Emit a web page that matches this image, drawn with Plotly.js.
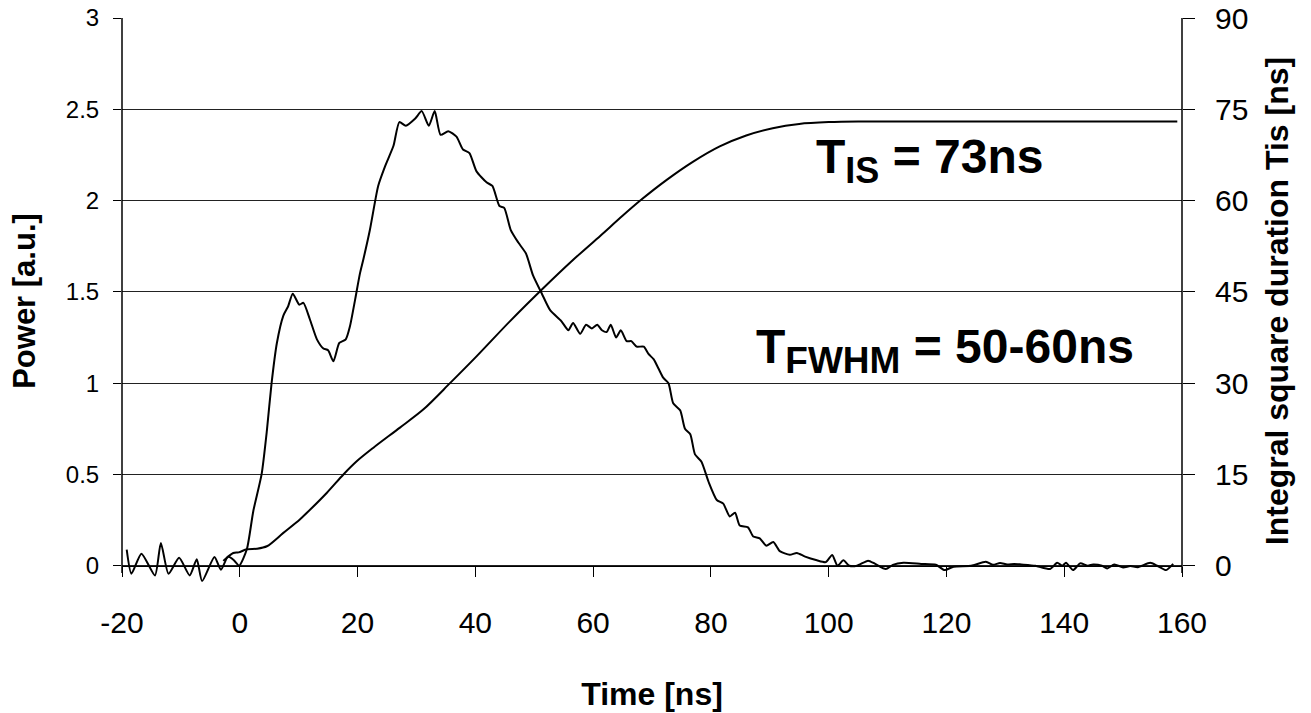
<!DOCTYPE html>
<html>
<head>
<meta charset="utf-8">
<script src="https://cdn.plot.ly/plotly-3.0.1.min.js"></script>
<style>html,body{margin:0;padding:0;background:#fff;}#chart{width:1311px;height:713px;}</style>
</head>
<body>
<div id="chart"></div>
<script>
// Power [a.u.] vs time [ns]
const powerTime = [-19.2,-18.4,-16.7,-14.4,-13.4,-12.1,-10.3,-8.5,-7.3,-6.4,-4.3,-3.2,-2.0,-1.0,-0.1,1.2,2.3,3.7,4.6,5.4,6.3,7.4,8.2,9.0,10.1,10.8,11.9,13.1,14.2,15.0,15.9,16.9,18.0,18.7,19.6,20.4,21.0,22.1,23.0,23.5,24.7,26.1,27.1,28.2,29.8,30.9,32.1,33.1,34.1,35.4,36.8,37.9,39.0,40.2,41.9,42.9,44.1,44.9,46.0,47.3,48.6,49.8,51.3,52.7,54.6,55.8,56.6,57.8,58.8,59.8,60.7,61.5,62.3,63.0,63.9,64.7,65.7,66.5,67.4,68.6,69.4,70.3,71.1,71.9,72.8,73.6,74.8,75.6,76.5,77.3,78.4,79.6,81.0,82.1,83.2,84.1,84.9,86.3,87.2,88.3,89.4,90.6,91.7,93.4,94.6,96.0,98.0,99.5,100.6,101.5,102.5,103.5,104.8,106.7,107.9,109.7,110.9,112.7,115.7,118.2,119.7,121.2,124.2,126.7,127.9,129.1,130.3,131.5,132.7,135.1,137.6,138.8,139.7,140.3,141.5,142.7,144.0,144.9,146.4,147.3,148.5,150.0,151.2,152.5,154.6,155.8,157.3,158.5];
const powerValue = [0.088,-0.044,0.066,-0.053,0.125,-0.044,0.044,-0.053,0.035,-0.084,0.048,-0.022,0.05,0.03,0.0,0.09,0.30,0.50,0.74,1.00,1.22,1.37,1.42,1.49,1.43,1.44,1.35,1.24,1.19,1.18,1.12,1.22,1.24,1.31,1.46,1.60,1.68,1.84,2.00,2.08,2.19,2.30,2.43,2.41,2.45,2.49,2.41,2.49,2.36,2.38,2.35,2.28,2.26,2.16,2.10,2.08,1.97,1.96,1.84,1.77,1.71,1.59,1.49,1.40,1.34,1.29,1.33,1.27,1.32,1.30,1.32,1.29,1.28,1.32,1.25,1.29,1.23,1.23,1.20,1.20,1.16,1.13,1.08,1.03,1.00,0.89,0.85,0.75,0.72,0.61,0.57,0.46,0.36,0.34,0.27,0.29,0.22,0.21,0.16,0.15,0.11,0.13,0.08,0.06,0.07,0.05,0.03,0.02,0.059,0.0,0.03,0.0,0.0,0.028,0.01,-0.018,0.005,0.016,0.01,0.005,-0.024,-0.005,0.0,0.022,0.005,0.015,0.007,0.01,0.007,0.0,-0.018,0.016,0.0,0.016,-0.024,0.013,0.0,0.007,0.0,-0.015,0.007,-0.009,-0.002,-0.008,0.016,0.0,-0.024,0.01];

// Integral square duration Tis [ns] vs time [ns]
const tisTime = [-2.8,-1.1,-0.2,1.2,2.9,4.6,7.4,10.2,11.4,14.8,17.6,19.9,22.7,27.2,31.2,35.7,40.2,45.9,51.3,56.3,61.2,65.0,68.0,72.5,77.0,81.5,86.0,90.5,95.0,100.0,105.0,120.0,140.0,159.2];
const tisValue = [0.8,2.1,2.2,2.7,2.8,3.2,5.4,7.6,8.7,12.0,15.0,17.2,19.4,22.7,25.7,30.0,34.4,40.2,45.4,50.0,54.2,57.5,60.0,63.4,66.4,68.9,70.7,71.9,72.6,72.9,73.0,73.0,73.0,73.0];

// Axis ticks
const xTicks = [-20,0,20,40,60,80,100,120,140,160];
const yLeftTicks = [0,0.5,1,1.5,2,2.5,3];
const yRightTicks = [0,15,30,45,60,75,90];

const FONT = 'Liberation Sans, Arial, Helvetica, sans-serif';

const traces = [
  {x: powerTime, y: powerValue, type: 'scatter', mode: 'lines', name: 'Power',
   line: {color: '#000', width: 2, shape: 'spline', smoothing: 0.6}, yaxis: 'y', hoverinfo: 'skip'},
  {x: tisTime, y: tisValue, type: 'scatter', mode: 'lines', name: 'Tis',
   line: {color: '#000', width: 2, shape: 'spline', smoothing: 0.8}, yaxis: 'y2', hoverinfo: 'skip'}
];

// y range extends slightly below zero so the noise under the axis is visible
const yMin = -0.1, yMax = 3;
const y2Min = yMin * 30, y2Max = 90;
const zeroPos = -yMin / (yMax - yMin);

const layout = {
  width: 1311, height: 713,
  margin: {l: 122, r: 129, t: 18, b: 129, pad: 0},
  paper_bgcolor: '#fff', plot_bgcolor: '#fff',
  showlegend: false,
  font: {family: FONT, color: '#000'},
  xaxis: {
    range: [-20, 160], tickvals: xTicks, ticktext: xTicks.map(String),
    anchor: 'free', position: zeroPos,
    showgrid: false, zeroline: false,
    showline: true, linecolor: '#000', linewidth: 1.5,
    ticks: 'outside', ticklen: 10, tickwidth: 1, tickcolor: '#000',
    tickfont: {size: 30, family: FONT, color: '#000'},
    ticklabelstandoff: 20,
    title: {text: '<b>Time [ns]</b>', font: {size: 32, family: FONT, color: '#000'}, standoff: 44}
  },
  yaxis: {
    range: [yMin, yMax], tickvals: yLeftTicks, ticktext: yLeftTicks.map(String),
    showgrid: true, gridcolor: '#222', gridwidth: 1, zeroline: false,
    showline: false,
    ticks: 'outside', ticklen: 8, tickwidth: 1, tickcolor: '#000',
    tickfont: {size: 24, family: FONT, color: '#000'},
    ticklabelstandoff: 9,
    title: {text: '<b>Power [a.u.]</b>', font: {size: 31, family: FONT, color: '#000'}, standoff: 20}
  },
  yaxis2: {
    range: [y2Min, y2Max], tickvals: yRightTicks, ticktext: yRightTicks.map(String),
    overlaying: 'y', side: 'right', anchor: 'x',
    showgrid: false, zeroline: false,
    showline: false,
    ticks: 'outside', ticklen: 12, tickwidth: 1, tickcolor: '#000',
    tickfont: {size: 30, family: FONT, color: '#000'},
    ticklabelstandoff: 14,
    title: {text: '<b>Integral square duration Tis [ns]</b>', font: {size: 32, family: FONT, color: '#000'}, standoff: 18}
  },
  shapes: [
    {type: 'line', xref: 'paper', yref: 'y', x0: 0, x1: 0, y0: -0.04, y1: 3, line: {color: '#000', width: 1.5}},
    {type: 'line', xref: 'paper', yref: 'y', x0: 1, x1: 1, y0: -0.04, y1: 3, line: {color: '#000', width: 1.5}}
  ],
  annotations: [
    {xref: 'paper', yref: 'paper', x: 0.653, y: 0.749, xanchor: 'left', yanchor: 'middle',
     text: '<b>T<sub><span style="font-size:36px">IS</span></sub> = 73ns</b>', showarrow: false,
     font: {size: 48, family: FONT, color: '#000'}},
    {xref: 'paper', yref: 'paper', x: 0.596, y: 0.412, xanchor: 'left', yanchor: 'middle',
     text: '<b>T<sub><span style="font-size:37px">FWHM</span></sub> = 50-60ns</b>', showarrow: false,
     font: {size: 48, family: FONT, color: '#000'}}
  ]
};

Plotly.newPlot('chart', traces, layout, {staticPlot: true, displayModeBar: false});
</script>
</body>
</html>
